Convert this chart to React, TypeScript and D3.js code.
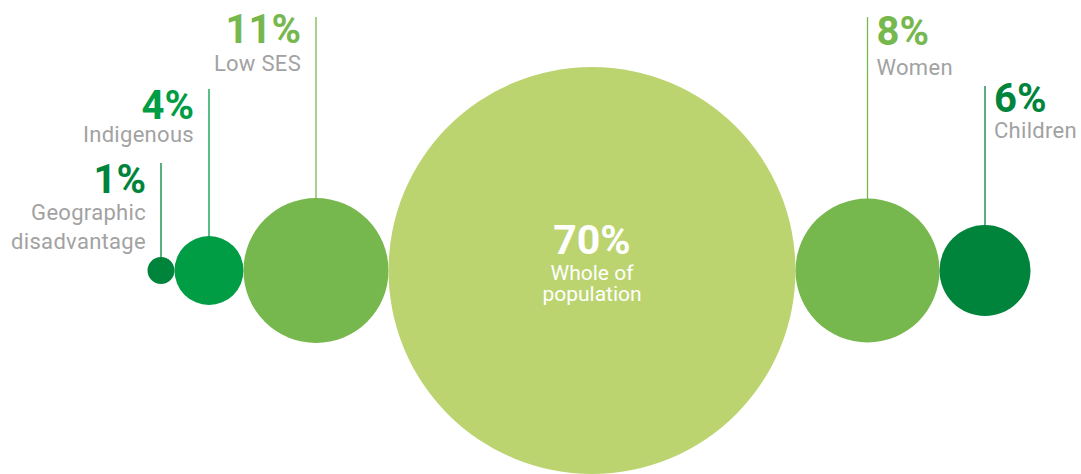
import React from "react";
import * as d3 from "d3";

// ---- data ----
const categories = [
  "Geographic disadvantage",
  "Indigenous",
  "Low SES",
  "Whole of population",
  "Women",
  "Children",
];
const values = [1, 4, 11, 70, 8, 6];
const labelLines = [
  ["Geographic", "disadvantage"],
  ["Indigenous"],
  ["Low SES"],
  ["Whole of", "population"],
  ["Women"],
  ["Children"],
];

// ---- layout / style ----
const W = 1081;
const H = 474;
const CY = 270.5;
const START_X = 147.5;
const colors = ["#00843b", "#009d45", "#77b84e", "#bbd46f", "#77b84e", "#00843b"];
// label placement per category: side, leader-line top, value baseline, first sublabel baseline
const labelLayout = [
  { side: "left", top: 163, vBase: 192.5, sBase: 219.5 },
  { side: "left", top: 89, vBase: 118.5, sBase: 141.5 },
  { side: "left", top: 17, vBase: 42.5, sBase: 70.5 },
  { side: "center", top: 0, vBase: 254, sBase: 280 },
  { side: "right", top: 17, vBase: 45, sBase: 75 },
  { side: "right", top: 86, vBase: 111.5, sBase: 138 },
];
const FONT = "Roboto, 'Noto Sans', sans-serif";
const GRAY = "#a2a2a2";

// bubble size scale (value -> radius), stops
const rScale = d3
  .scaleLinear()
  .domain([1, 4, 6, 8, 11, 70])
  .range([13.5, 34.5, 45.5, 72, 72.5, 203.5]);

export default function App() {
  React.useEffect(() => {
    document.body.style.margin = "0";
  }, []);

  // pack circles side by side along the horizontal axis
  const radii = values.map((v) => rScale(v));
  const centers: number[] = [];
  let edge = START_X;
  radii.forEach((r) => {
    centers.push(edge + r);
    edge += 2 * r;
  });

  return (
    <svg
      width={W}
      height={H}
      viewBox={`0 0 ${W} ${H}`}
      style={{ display: "block", position: "absolute", left: 0, top: 0 }}
      fontFamily={FONT}
    >
      {categories.map((c, i) => {
        const cx = centers[i];
        const r = radii[i];
        const L = labelLayout[i];
        const col = colors[i];
        if (L.side === "center") {
          return (
            <g key={c}>
              <circle cx={cx} cy={CY} r={r} fill={col} />
              <text
                x={cx}
                y={L.vBase}
                textAnchor="middle"
                fill="#fff"
                fontSize={41}
                fontWeight={700}
              >
                {values[i]}%
              </text>
              {labelLines[i].map((t, j) => (
                <text
                  key={j}
                  x={cx}
                  y={L.sBase + j * 21}
                  textAnchor="middle"
                  fill="#fff"
                  fontSize={21}
                >
                  {t}
                </text>
              ))}
            </g>
          );
        }
        const left = L.side === "left";
        const tx = left ? cx - 15 : cx + 9;
        const anchor = left ? "end" : "start";
        return (
          <g key={c}>
            <line
              x1={cx}
              x2={cx}
              y1={L.top}
              y2={CY - r + 1}
              stroke={col}
              strokeWidth={1.3}
            />
            <circle cx={cx} cy={CY} r={r} fill={col} />
            <text
              x={tx}
              y={L.vBase}
              textAnchor={anchor}
              fill={col}
              fontSize={40}
              fontWeight={700}
            >
              {values[i]}%
            </text>
            {labelLines[i].map((t, j) => (
              <text
                key={j}
                x={tx}
                y={L.sBase + j * 29.5}
                textAnchor={anchor}
                fill={GRAY}
                fontSize={22}
                letterSpacing={0.3}
              >
                {t}
              </text>
            ))}
          </g>
        );
      })}
    </svg>
  );
}
